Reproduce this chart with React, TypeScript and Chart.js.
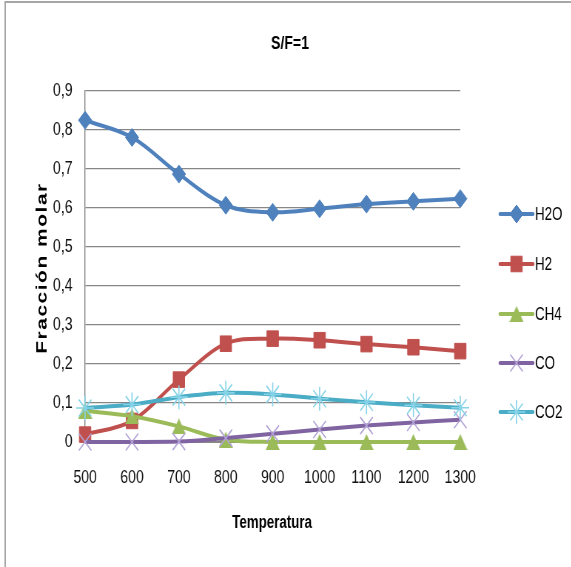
import React, { useEffect, useRef } from 'react';
import { Chart, registerables } from 'chart.js';
import { drawPoint } from 'chart.js/helpers';

Chart.register(...registerables);

// Temperatures on the horizontal axis
const temperaturas = ['500', '600', '700', '800', '900', '1000', '1100', '1200', '1300'];

// Molar fraction of each species at S/F = 1
const h2o = [0.825, 0.781, 0.687, 0.607, 0.589, 0.598, 0.61, 0.617, 0.624];
const h2 = [0.019, 0.054, 0.16, 0.252, 0.265, 0.261, 0.251, 0.243, 0.233];
const ch4 = [0.08, 0.066, 0.04, 0.006, 0, 0, 0, 0, 0];
const co = [0, 0, 0.001, 0.01, 0.021, 0.032, 0.042, 0.05, 0.057];
const co2 = [0.087, 0.096, 0.115, 0.126, 0.122, 0.111, 0.102, 0.094, 0.088];

const seriesLabels = ['H2O', 'H2', 'CH4', 'CO', 'CO2'];
const seriesData = [h2o, h2, ch4, co, co2];

// Drawing styles per series
const lineColors = ['#4F81BD', '#C0504D', '#9BBB59', '#8064A2', '#4BACC6'];
const markerFills = ['#4F81BD', '#C0504D', '#9BBB59', 'rgba(0,0,0,0)', 'rgba(0,0,0,0)'];
const markerStrokes = ['#4F81BD', '#C0504D', '#9BBB59', '#B3A2D6', '#86D3E8'];
const markerRadii = [9, 11, 11, 12, 12];
const markerBorders = [1, 1, 1, 1.6, 1.6];

// The whole figure is drawn wide and squeezed horizontally
const SQUEEZE = 0.74;
const VIEW_W = 571;
const VIEW_H = 567;
const CANVAS_W = Math.round(VIEW_W / SQUEEZE);

const FONT = "'Liberation Sans', Arial, sans-serif";
const AXIS_GREY = '#878787';
const TEXT = '#111111';

// Triangle marker centred on its bounding box
function makeTriangle(color: string, w: number, h: number): HTMLCanvasElement {
  const c = document.createElement('canvas');
  c.width = w;
  c.height = h;
  const g = c.getContext('2d')!;
  g.fillStyle = color;
  g.beginPath();
  g.moveTo(w / 2, 0);
  g.lineTo(w, h);
  g.lineTo(0, h);
  g.closePath();
  g.fill();
  return c;
}

function makeDecorPlugin(styles: any[]) {
  return {
    id: 'decor',
    beforeDraw(chart: any) {
      const { ctx, width, height } = chart;
      ctx.save();
      ctx.fillStyle = '#ffffff';
      ctx.fillRect(0, 0, width, height);
      // outer frame (left and top edges)
      ctx.strokeStyle = '#a6a6a6';
      ctx.lineWidth = 2;
      ctx.beginPath();
      ctx.moveTo(7, height);
      ctx.lineTo(7, 2);
      ctx.lineTo(width, 2);
      ctx.stroke();
      ctx.restore();
    },
    afterDraw(chart: any) {
      const { ctx } = chart;
      ctx.save();
      ctx.fillStyle = '#000';
      ctx.textAlign = 'center';
      ctx.textBaseline = 'alphabetic';

      // chart title
      ctx.font = `bold 19px ${FONT}`;
      ctx.fillText('S/F=1', 290 / SQUEEZE, 49);

      // horizontal axis title
      ctx.font = `bold 18px ${FONT}`;
      ctx.fillText('Temperatura', 272 / SQUEEZE, 528);

      // vertical axis title
      ctx.save();
      ctx.translate(37 / SQUEEZE + 7, 268);
      ctx.rotate(-Math.PI / 2);
      ctx.font = `bold 21px ${FONT}`;
      (ctx as any).letterSpacing = '1.5px';
      ctx.textBaseline = 'middle';
      ctx.fillText('Fracción molar', 0, 0);
      ctx.restore();

      // legend
      const rows = [214, 264, 314, 363, 412];
      const x0 = 500 / SQUEEZE;
      const x1 = 533 / SQUEEZE;
      const xm = (x0 + x1) / 2;
      ctx.font = `18px ${FONT}`;
      ctx.textAlign = 'left';
      ctx.textBaseline = 'middle';
      seriesLabels.forEach((lab, i) => {
        const y = rows[i];
        ctx.strokeStyle = lineColors[i];
        ctx.lineWidth = 4;
        ctx.lineCap = 'round';
        ctx.beginPath();
        ctx.moveTo(x0, y);
        ctx.lineTo(x1, y);
        ctx.stroke();
        ctx.lineCap = 'butt';
        ctx.fillStyle = markerFills[i];
        ctx.strokeStyle = markerStrokes[i];
        ctx.lineWidth = markerBorders[i];
        drawPoint(
          ctx,
          { pointStyle: styles[i], radius: markerRadii[i], rotation: 0, borderWidth: markerBorders[i] } as any,
          xm,
          y
        );
        ctx.fillStyle = '#000';
        ctx.fillText(lab, 535 / SQUEEZE, y + 1);
      });
      ctx.restore();
    },
  };
}

export default function App() {
  const canvasRef = useRef<HTMLCanvasElement | null>(null);

  useEffect(() => {
    const canvas = canvasRef.current;
    if (!canvas) return;

    const markerStyles: any[] = ['rectRot', 'rect', makeTriangle('#9BBB59', 19, 16), 'crossRot', 'star'];

    const datasets = seriesLabels.map((label, i) => ({
      label,
      data: seriesData[i],
      borderColor: lineColors[i],
      backgroundColor: markerFills[i],
      borderWidth: 4,
      tension: 0.35,
      pointStyle: markerStyles[i],
      pointRadius: markerRadii[i],
      pointHoverRadius: markerRadii[i],
      pointBackgroundColor: markerFills[i],
      pointBorderColor: markerStrokes[i],
      pointBorderWidth: markerBorders[i],
      clip: false as any,
      order: seriesLabels.length - i,
    }));

    const chart = new Chart(canvas, {
      type: 'line',
      data: { labels: temperaturas, datasets },
      options: {
        animation: false,
        responsive: false,
        devicePixelRatio: 1,
        layout: { padding: { top: 91, right: CANVAS_W - Math.round(460 / SQUEEZE), left: 0, bottom: 0 } },
        plugins: {
          legend: { display: false },
          title: { display: false },
          tooltip: { enabled: false },
        },
        scales: {
          x: {
            type: 'category',
            offset: false,
            grid: { display: false, drawTicks: false },
            border: { display: true, color: AXIS_GREY, width: 1 },
            ticks: {
              padding: 24,
              color: TEXT,
              font: { family: FONT, size: 19 },
              maxRotation: 0,
              autoSkip: false,
            },
            afterFit(scale: any) {
              scale.height = VIEW_H - 442;
            },
          },
          y: {
            min: 0,
            max: 0.9,
            grid: { color: AXIS_GREY, lineWidth: 1.2, drawTicks: false },
            border: { display: true, color: AXIS_GREY, width: 1.4 },
            ticks: {
              stepSize: 0.1,
              padding: 17,
              color: TEXT,
              font: { family: FONT, size: 19 },
              callback: (v: any) => (Number(v) === 0 ? '0' : Number(v).toFixed(1).replace('.', ',')),
            },
            afterFit(scale: any) {
              scale.width = Math.round(85 / SQUEEZE);
            },
          },
        },
      },
      plugins: [makeDecorPlugin(markerStyles)],
    });

    return () => chart.destroy();
  }, []);

  return (
    <div
      style={{
        position: 'fixed',
        left: 0,
        top: 0,
        width: VIEW_W,
        height: VIEW_H,
        overflow: 'hidden',
        background: '#fff',
      }}
    >
      <div style={{ width: CANVAS_W, height: VIEW_H, transform: `scaleX(${SQUEEZE})`, transformOrigin: '0 0' }}>
        <canvas ref={canvasRef} width={CANVAS_W} height={VIEW_H} />
      </div>
    </div>
  );
}
